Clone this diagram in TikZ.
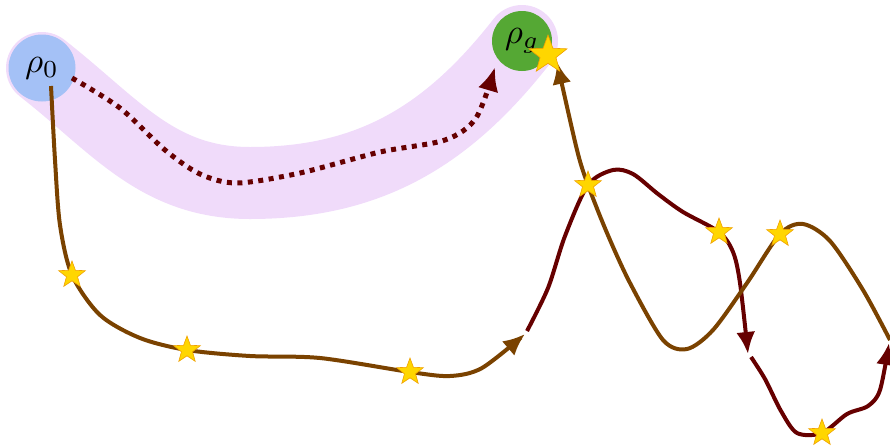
\documentclass[tikz,border=0pt]{standalone}
\usepackage{amsmath,amssymb}
\usepackage{graphicx}
\usepackage{tikz}
\usetikzlibrary{arrows.meta,positioning,shapes.geometric}
\definecolor{bandpurple}{RGB}{240,219,250}
\definecolor{startblue}{RGB}{164,193,246}
\definecolor{goalgreen}{RGB}{85,168,52}
\definecolor{trajbrown}{RGB}{122,66,0}
\definecolor{trajred}{RGB}{102,0,0}
\definecolor{stargold}{RGB}{255,214,0}
\definecolor{staredge}{RGB}{240,160,0}
\newcommand{\bigstate}[1]{\scalebox{3.5}{$#1$}}
\begin{document}
\begin{tikzpicture}[x=1pt,y=-1pt,
  statenode/.style={circle,minimum size=#1,inner sep=0pt},
  starmark/.style={star,star points=5,star point ratio=2.4,minimum size=#1,inner sep=0pt,
    fill=stargold,draw=staredge,line width=0.6pt},
  brownpath/.style={draw=trajbrown,line width=4pt,-{Latex[length=22pt,width=19pt]}},
  redpath/.style={draw=trajred,line width=4pt,-{Latex[length=22pt,width=19pt]}}]
  \useasboundingbox (0,0) rectangle (890,445);
  % waypoints
  \coordinate (c0) at (42,68);
  \coordinate (cg) at (522,41);
  \coordinate (s1) at (72,275);
  \coordinate (s2) at (187,350);
  \coordinate (s3) at (410,372);
  \coordinate (s4) at (588,185);
  \coordinate (s5) at (719,232);
  \coordinate (s6) at (780,234);
  \coordinate (s7) at (822,433);
  \coordinate (sg) at (548,55);
  % shaded band between the two states
  \draw[bandpurple,line width=72pt,line cap=round]
    (c0) to[out=-38,in=180] (250,183) to[out=0,in=-128] (cg);
  \node[statenode=67pt,fill=startblue] (r0) at (c0) {\bigstate{\rho_0}};
  \node[statenode=60pt,fill=goalgreen] (rg) at (cg) {\bigstate{\rho_g}};
  % dotted direct route
  \draw[trajred,line width=5pt,dash pattern=on 5pt off 5.5pt,-{Latex[length=24pt,width=21pt]}]
    plot[smooth] coordinates {(72,78) (120,108) (165,150) (200,174) (237,183)
      (300,173) (380,152) (445,140) (476,118) (495,67)};
  % long route
  \draw[brownpath] plot[smooth] coordinates {(51,86) (55,160) (60,225) (s1) (100,315)
    (140,338) (s2) (250,356) (320,358) (s3) (450,376) (482,368) (525,334)};
  \draw[redpath] plot[smooth] coordinates {(527,331) (548,288) (565,236) (s4) (613,170)
    (633,174) (658,194) (683,212) (s5) (733,252) (740,283) (748,354)};
  \draw[redpath] plot[smooth] coordinates {(751,357) (765,379) (781,411) (797,433)
    (s7) (847,414) (868,406) (880,390) (889,343)};
  \draw[brownpath] plot[smooth] coordinates {(890,340) (863,290) (830,241) (803,224)
    (s6) (747,283) (713,330) (687,349) (663,340) (630,283) (607,233) (s4) (577,150)
    (557,62)};
  % checkpoints
  \foreach \s in {s1,s2,s3,s4,s5,s6,s7}
    \node[starmark=28pt] at (\s) {};
  \node[starmark=40pt] (sgoal) at (sg) {};
\end{tikzpicture}
\end{document}
